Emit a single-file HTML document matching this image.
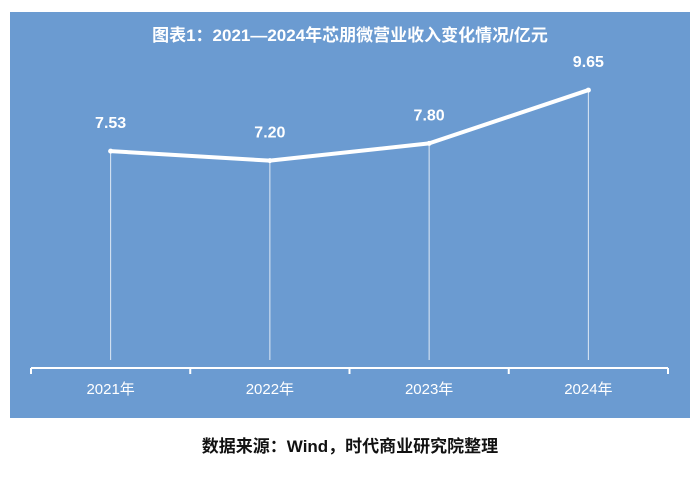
<!DOCTYPE html>
<html><head><meta charset="utf-8"><style>
body{margin:0;background:#fff;width:700px;height:472px;overflow:hidden;font-family:"Liberation Sans","Noto Sans CJK SC",sans-serif}
</style></head><body>
<svg width="700" height="472">
<rect x="10" y="12" width="680" height="406" fill="#6b9bd1"/>
<text x="350" y="41" text-anchor="middle" fill="#fff" font-size="17" font-weight="bold" font-family="Liberation Sans,Noto Sans CJK SC,sans-serif">图表1：2021—2024年芯朋微营业收入变化情况/亿元</text>
<g id="plot"></g>
<text x="350" y="452" text-anchor="middle" fill="#111" font-size="17" font-weight="bold" font-family="Liberation Sans,Noto Sans CJK SC,sans-serif">数据来源：Wind，时代商业研究院整理</text>
</svg>
<script>
const categories=["2021年","2022年","2023年","2024年"];
const revenue=[7.53,7.20,7.80,9.65];
const valueLabels=["7.53","7.20","7.80","9.65"];
const ns="http://www.w3.org/2000/svg";
const g=document.getElementById('plot');
const x0=31,x1=668,axisY=368;
const step=(x1-x0)/categories.length;
const xs=i=>x0+step*(i+0.5);
const ys=v=>axisY-v*28.8;
function mk(t,a){const e=document.createElementNS(ns,t);for(const k in a)e.setAttribute(k,a[k]);g.appendChild(e);return e;}
let ax=mk('line',{x1:x0,x2:x1,y1:axisY,y2:axisY,stroke:'#fff','stroke-width':2});


for(let i=0;i<=categories.length;i++){
 let t=mk('line',{x1:x0+step*i,x2:x0+step*i,y1:axisY,y2:axisY+6,stroke:'#fff','stroke-width':2});
 
 
}
categories.forEach((c,i)=>{
 let d=mk('line',{x1:xs(i),x2:xs(i),y1:ys(revenue[i]),y2:axisY-8,stroke:'#dfe9f5','stroke-width':1});
 
 
 let t=mk('text',{x:xs(i),y:394,'text-anchor':'middle',fill:'#fff','font-size':15});
 t.textContent=c;
 
 
});
let p=mk('polyline',{points:revenue.map((v,i)=>xs(i)+','+ys(v)).join(' '),fill:'none',stroke:'#fff','stroke-width':4,'stroke-linejoin':'round','stroke-linecap':'round'});


revenue.forEach((v,i)=>{
 let c=mk('circle',{cx:xs(i),cy:ys(v),r:2.5,fill:'#fff'});
 
 
 let t=mk('text',{x:xs(i),y:ys(v)-23,'text-anchor':'middle',fill:'#fff','font-size':16,'font-weight':'bold'});
 t.textContent=valueLabels[i];
 
 
});
</script>
</body></html>
